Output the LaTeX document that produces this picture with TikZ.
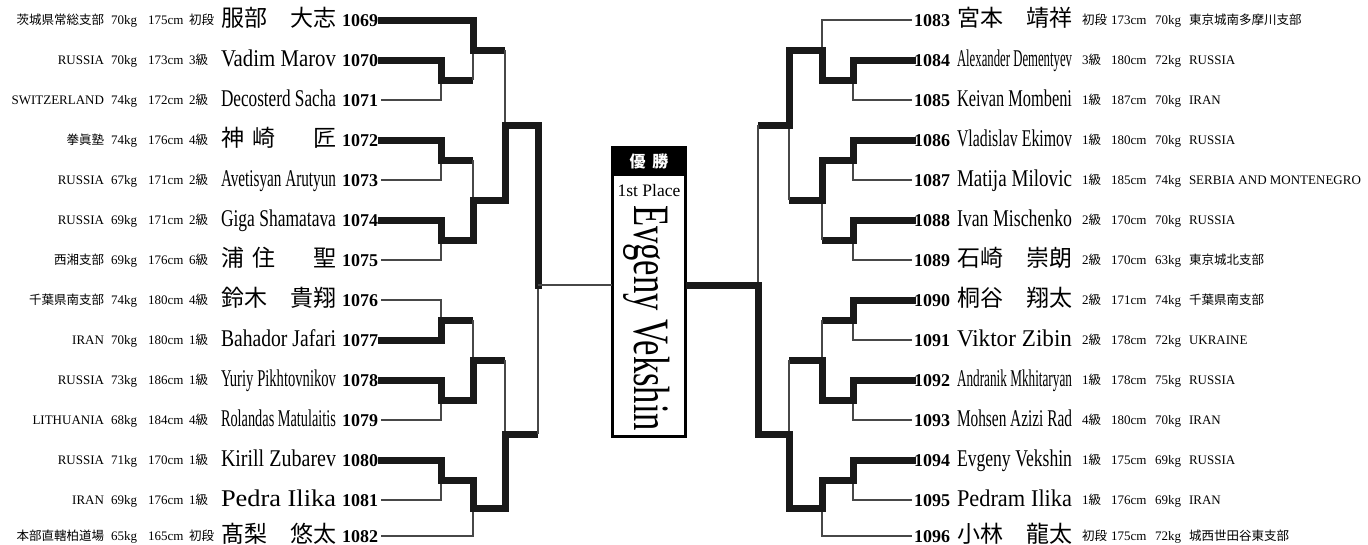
\documentclass[tikz,border=0pt]{standalone}
\usepackage{fontspec}
\usepackage{graphicx}
\setmainfont{Liberation Serif}
\newfontfamily\jp{Noto Sans CJK JP}
\newfontfamily\cond[FakeStretch=0.8]{Liberation Serif}
\newcommand\ji{\jp\fontsize{12.5}{14}\selectfont}
\newcommand\ename[1]{\resizebox{115pt}{\height}{\cond\fontsize{24}{26}\selectfont #1}}
\newcommand\jname[2]{\makebox[115pt][s]{\jp\fontsize{23}{25}\selectfont #1\hfill #2}}
\newcommand\gap{\hspace{5pt}}
% left row: num, y, affiliation, kg, cm, rank, name
\newcommand\Lrow[7]{%
  \coordinate (p#1) at (381,#2);
  \node[num, anchor=base east] (n#1) at (378,#2+6.5) {#1};
  \node[anchor=base west] (m#1) at (221,#2+6) {#7};
  \node[info, anchor=base east] (a#1) at (104,#2+4.5) {#3};
  \node[info, anchor=base west] (w#1) at (111,#2+4.5) {#4};
  \node[info, anchor=base west] (h#1) at (148,#2+4.5) {#5};
  \node[info, anchor=base west] (r#1) at (189,#2+4.5) {#6};
}
% right row: num, y, name, rank, cm, kg, affiliation
\newcommand\Rrow[7]{%
  \coordinate (p#1) at (912,#2);
  \node[num, anchor=base west] (n#1) at (914,#2+6.5) {#1};
  \node[anchor=base west] (m#1) at (957,#2+6) {#3};
  \node[info, anchor=base west] (r#1) at (1082,#2+4.5) {#4};
  \node[info, anchor=base west] (h#1) at (1111,#2+4.5) {#5};
  \node[info, anchor=base west] (w#1) at (1155,#2+4.5) {#6};
  \node[info, anchor=base west] (a#1) at (1189,#2+4.5) {#7};
}
\newcommand\Win[2]{\draw[win] (#1) -| (#2);}
\newcommand\LoseE[2]{\draw[lose] (#1) -| (#2);}
\newcommand\LoseJ[2]{\draw[hwin] (#1) -- (#1 -| #2); \draw[lose] (#1 -| #2) -- (#2);}
\tikzset{
  win/.style={line width=7pt, line cap=rect, line join=miter, draw=black!90},
  hwin/.style={line width=7pt, line cap=butt, draw=black!90},
  lose/.style={line width=1.1pt, draw=black!72},
  num/.style={font=\fontsize{18}{19}\selectfont\bfseries},
  info/.style={font=\fontsize{13}{14}\selectfont},
}
\begin{document}
\begin{tikzpicture}[x=1pt,y=-1pt, every node/.style={inner sep=0pt, outer sep=0pt}]
\useasboundingbox (0,0) rectangle (1368,544);
% ---------- left entries ----------
\Lrow{1069}{20}{{\ji 茨城県常総支部}}{70kg}{175cm}{{\ji 初段}}{\jname{服部}{大志}}
\Lrow{1070}{60}{RUSSIA}{70kg}{173cm}{3{\ji 級}}{\ename{Vadim Marov}}
\Lrow{1071}{100}{SWITZERLAND}{74kg}{172cm}{2{\ji 級}}{\ename{Decosterd Sacha}}
\Lrow{1072}{140}{{\ji 拳眞塾}}{74kg}{176cm}{4{\ji 級}}{\jname{神\hspace{9pt}崎}{匠}}
\Lrow{1073}{180}{RUSSIA}{67kg}{171cm}{2{\ji 級}}{\ename{Avetisyan Arutyun}}
\Lrow{1074}{220}{RUSSIA}{69kg}{171cm}{2{\ji 級}}{\ename{Giga Shamatava}}
\Lrow{1075}{260}{{\ji 西湘支部}}{69kg}{176cm}{6{\ji 級}}{\jname{浦\hspace{9pt}住}{聖}}
\Lrow{1076}{300}{{\ji 千葉県南支部}}{74kg}{180cm}{4{\ji 級}}{\jname{鈴木}{貴翔}}
\Lrow{1077}{340}{IRAN}{70kg}{180cm}{1{\ji 級}}{\ename{Bahador\gap Jafari}}
\Lrow{1078}{380}{RUSSIA}{73kg}{186cm}{1{\ji 級}}{\ename{Yuriy\gap Pikhtovnikov}}
\Lrow{1079}{420}{LITHUANIA}{68kg}{184cm}{4{\ji 級}}{\ename{Rolandas Matulaitis}}
\Lrow{1080}{460}{RUSSIA}{71kg}{170cm}{1{\ji 級}}{\ename{Kirill\gap Zubarev}}
\Lrow{1081}{500}{IRAN}{69kg}{176cm}{1{\ji 級}}{\ename{Pedra Ilika}}
\Lrow{1082}{536}{{\ji 本部直轄柏道場}}{65kg}{165cm}{{\ji 初段}}{\jname{髙梨}{悠太}}
% ---------- right entries ----------
\Rrow{1083}{20}{\jname{宮本}{靖祥}}{{\ji 初段}}{173cm}{70kg}{{\ji 東京城南多摩川支部}}
\Rrow{1084}{60}{\ename{Alexander\gap Dementyev}}{3{\ji 級}}{180cm}{72kg}{RUSSIA}
\Rrow{1085}{100}{\ename{Keivan\gap Mombeni}}{1{\ji 級}}{187cm}{70kg}{IRAN}
\Rrow{1086}{140}{\ename{Vladislav\gap Ekimov}}{1{\ji 級}}{180cm}{70kg}{RUSSIA}
\Rrow{1087}{180}{\ename{Matija\gap Milovic}}{1{\ji 級}}{185cm}{74kg}{SERBIA AND MONTENEGRO}
\Rrow{1088}{220}{\ename{Ivan\gap Mischenko}}{2{\ji 級}}{170cm}{70kg}{RUSSIA}
\Rrow{1089}{260}{\jname{石崎}{崇朗}}{2{\ji 級}}{170cm}{63kg}{{\ji 東京城北支部}}
\Rrow{1090}{300}{\jname{桐谷}{翔太}}{2{\ji 級}}{171cm}{74kg}{{\ji 千葉県南支部}}
\Rrow{1091}{340}{\ename{Viktor\gap Zibin}}{2{\ji 級}}{178cm}{72kg}{UKRAINE}
\Rrow{1092}{380}{\ename{Andranik Mkhitaryan}}{1{\ji 級}}{178cm}{75kg}{RUSSIA}
\Rrow{1093}{420}{\ename{Mohsen Azizi Rad}}{4{\ji 級}}{180cm}{70kg}{IRAN}
\Rrow{1094}{460}{\ename{Evgeny\gap Vekshin}}{1{\ji 級}}{175cm}{69kg}{RUSSIA}
\Rrow{1095}{500}{\ename{Pedram\gap Ilika}}{1{\ji 級}}{176cm}{69kg}{IRAN}
\Rrow{1096}{536}{\jname{小林}{龍太}}{{\ji 初段}}{175cm}{72kg}{{\ji 城西世田谷東支部}}
% ---------- junctions ----------
\coordinate (L1a) at (441,80);  \coordinate (L2a) at (473,50);
\coordinate (L1b) at (441,160); \coordinate (L1c) at (441,240);
\coordinate (L2b) at (473,200); \coordinate (L3a) at (505,125);
\coordinate (L1d) at (441,320); \coordinate (L1e) at (441,400);
\coordinate (L2c) at (473,360); \coordinate (L1f) at (441,480);
\coordinate (L2d) at (473,508); \coordinate (L3b) at (505,434);
\coordinate (L4) at (538,285);
\coordinate (R1a) at (853,80);  \coordinate (R2a) at (822,50);
\coordinate (R1b) at (853,160); \coordinate (R1c) at (853,240);
\coordinate (R2b) at (822,200); \coordinate (R3a) at (789,125);
\coordinate (R1d) at (853,320); \coordinate (R1e) at (853,400);
\coordinate (R2c) at (822,360); \coordinate (R1f) at (853,480);
\coordinate (R2d) at (822,508); \coordinate (R3b) at (789,434);
\coordinate (R4) at (758,285);
% ---------- left bracket ----------
\LoseE{p1071}{L1a} \Win{p1070}{L1a}
\LoseJ{L1a}{L2a} \Win{p1069}{L2a}
\LoseE{p1073}{L1b} \Win{p1072}{L1b}
\LoseE{p1075}{L1c} \Win{p1074}{L1c}
\LoseJ{L1b}{L2b} \Win{L1c}{L2b}
\LoseJ{L2a}{L3a} \Win{L2b}{L3a}
\LoseE{p1076}{L1d} \Win{p1077}{L1d}
\LoseE{p1079}{L1e} \Win{p1078}{L1e}
\LoseJ{L1d}{L2c} \Win{L1e}{L2c}
\LoseE{p1081}{L1f} \Win{p1080}{L1f}
\LoseE{p1082}{L2d} \Win{L1f}{L2d}
\LoseJ{L2c}{L3b} \Win{L2d}{L3b}
\LoseJ{L3b}{L4} \Win{L3a}{L4}
% ---------- right bracket ----------
\LoseE{p1085}{R1a} \Win{p1084}{R1a}
\LoseE{p1083}{R2a} \Win{R1a}{R2a}
\LoseE{p1087}{R1b} \Win{p1086}{R1b}
\LoseE{p1089}{R1c} \Win{p1088}{R1c}
\LoseJ{R1c}{R2b} \Win{R1b}{R2b}
\LoseJ{R2b}{R3a} \Win{R2a}{R3a}
\LoseE{p1091}{R1d} \Win{p1090}{R1d}
\LoseE{p1093}{R1e} \Win{p1092}{R1e}
\LoseJ{R1d}{R2c} \Win{R1e}{R2c}
\LoseE{p1095}{R1f} \Win{p1094}{R1f}
\LoseE{p1096}{R2d} \Win{R1f}{R2d}
\LoseJ{R2c}{R3b} \Win{R2d}{R3b}
\LoseJ{R3a}{R4} \Win{R3b}{R4}
% ---------- champion box ----------
\node[draw=black, line width=2.8pt, minimum width=73.2pt, minimum height=289.2pt] (champ) at (649,292) {};
\node[fill=black, text=white, minimum width=73.2pt, minimum height=29pt, anchor=north,
      font=\jp\fontsize{16}{16}\selectfont\bfseries] (yusho) at (champ.north) {優\hspace{7pt}勝};
\node[anchor=base, font=\fontsize{17.5}{18}\selectfont] (place) at (649,196) {1st Place};
\node[anchor=base, rotate=-90] (winner) at (634,318)
  {\resizebox{226pt}{\height}{\fontsize{51}{51}\selectfont Evgeny Vekshin}};
\draw[lose] (L4) -- (L4 -| champ.west);
\draw[hwin] (R4) -- (R4 -| champ.east);
\end{tikzpicture}
\end{document}
